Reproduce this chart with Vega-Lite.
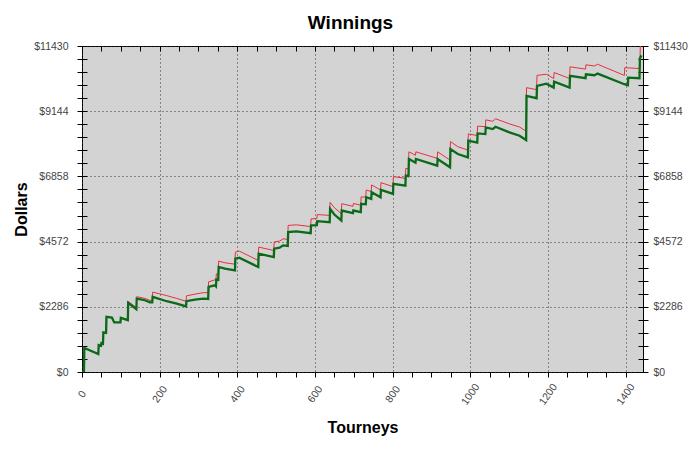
{
  "$schema": "https://vega.github.io/schema/vega-lite/v6.json",
  "width": 561,
  "height": 326,
  "autosize": {"type": "none"},
  "padding": {"left": 82, "top": 46, "right": 57, "bottom": 77},
  "background": "white",
  "title": {"text": "Winnings", "fontSize": 19, "font": "Liberation Sans", "fontWeight": "bold", "anchor": "middle", "frame": "group", "dx": -12, "offset": 8, "color": "black"},
  "config": {
    "view": {"fill": "#d3d3d3", "stroke": "black", "strokeWidth": 1},
    "axis": {"labelFont": "Liberation Sans", "titleFont": "Liberation Sans", "labelFontSize": 10.5, "labelColor": "#444", "tickColor": "black", "titleColor": "black", "titleFontSize": 16, "titleFontWeight": "bold", "labelOverlap": false, "labelFlush": false, "domain": false}
  },
  "datasets": {
    "green": [
      {"t":0,"v":0},{"t":5,"v":0},{"t":6,"v":840},{"t":42,"v":630},{"t":43,"v":944},{"t":49,"v":920},{"t":50,"v":1013},{"t":54,"v":990},{"t":55,"v":1387},{"t":62,"v":1370},{"t":63,"v":1933},{"t":77,"v":1911},{"t":83,"v":1740},{"t":99,"v":1737},{"t":100,"v":1898},{"t":118,"v":1817},{"t":119,"v":2423},{"t":140,"v":2202},{"t":141,"v":2575},{"t":162,"v":2516},{"t":175,"v":2440},{"t":181,"v":2440},{"t":182,"v":2633},{"t":218,"v":2481},{"t":244,"v":2400},{"t":268,"v":2300},{"t":269,"v":2481},{"t":291,"v":2540},{"t":312,"v":2575},{"t":325,"v":2560},{"t":326,"v":2982},{"t":342,"v":3040},{"t":345,"v":3000},{"t":346,"v":3239},{"t":351,"v":3230},{"t":352,"v":3681},{"t":368,"v":3623},{"t":394,"v":3565},{"t":395,"v":3973},{"t":405,"v":4010},{"t":454,"v":3681},{"t":455,"v":4148},{"t":494,"v":4031},{"t":495,"v":4323},{"t":509,"v":4357},{"t":518,"v":4439},{"t":530,"v":4420},{"t":531,"v":4904},{"t":552,"v":4928},{"t":589,"v":4869},{"t":590,"v":5138},{"t":605,"v":5150},{"t":606,"v":5288},{"t":638,"v":5253},{"t":639,"v":5721},{"t":650,"v":5520},{"t":668,"v":5312},{"t":669,"v":5662},{"t":698,"v":5568},{"t":699,"v":5662},{"t":718,"v":5603},{"t":719,"v":5896},{"t":731,"v":5880},{"t":732,"v":6127},{"t":745,"v":6069},{"t":746,"v":6302},{"t":769,"v":6127},{"t":770,"v":6385},{"t":801,"v":6245},{"t":802,"v":6594},{"t":833,"v":6536},{"t":834,"v":6885},{"t":841,"v":6870},{"t":842,"v":7468},{"t":859,"v":7340},{"t":860,"v":7468},{"t":915,"v":7235},{"t":916,"v":7468},{"t":948,"v":7176},{"t":949,"v":7818},{"t":968,"v":7643},{"t":994,"v":7526},{"t":995,"v":8108},{"t":1018,"v":8040},{"t":1019,"v":8364},{"t":1039,"v":8341},{"t":1040,"v":8574},{"t":1058,"v":8516},{"t":1065,"v":8598},{"t":1101,"v":8400},{"t":1127,"v":8283},{"t":1144,"v":8132},{"t":1145,"v":9681},{"t":1171,"v":9600},{"t":1172,"v":10031},{"t":1196,"v":10111},{"t":1215,"v":9971},{"t":1216,"v":10181},{"t":1256,"v":9971},{"t":1257,"v":10380},{"t":1297,"v":10299},{"t":1298,"v":10439},{"t":1320,"v":10404},{"t":1328,"v":10462},{"t":1397,"v":10090},{"t":1406,"v":10055},{"t":1407,"v":10321},{"t":1436,"v":10300},{"t":1437,"v":11000},{"t":1441,"v":11100}
    ],
    "red": [
      {"t":0,"v":0},{"t":5,"v":0},{"t":6,"v":840},{"t":42,"v":630},{"t":43,"v":944},{"t":49,"v":920},{"t":50,"v":1013},{"t":54,"v":990},{"t":55,"v":1387},{"t":62,"v":1370},{"t":63,"v":1933},{"t":77,"v":1911},{"t":83,"v":1740},{"t":99,"v":1737},{"t":100,"v":1898},{"t":118,"v":1817},{"t":119,"v":2470},{"t":140,"v":2260},{"t":141,"v":2640},{"t":162,"v":2580},{"t":175,"v":2510},{"t":181,"v":2510},{"t":182,"v":2800},{"t":218,"v":2680},{"t":244,"v":2580},{"t":268,"v":2480},{"t":269,"v":2670},{"t":291,"v":2730},{"t":312,"v":2780},{"t":325,"v":2780},{"t":326,"v":3160},{"t":342,"v":3230},{"t":345,"v":3200},{"t":346,"v":3440},{"t":351,"v":3440},{"t":352,"v":3890},{"t":368,"v":3830},{"t":394,"v":3780},{"t":395,"v":4200},{"t":405,"v":4240},{"t":454,"v":3910},{"t":455,"v":4380},{"t":494,"v":4260},{"t":495,"v":4560},{"t":509,"v":4590},{"t":518,"v":4670},{"t":530,"v":4650},{"t":531,"v":5140},{"t":552,"v":5160},{"t":589,"v":5100},{"t":590,"v":5370},{"t":605,"v":5380},{"t":606,"v":5520},{"t":638,"v":5490},{"t":639,"v":5950},{"t":650,"v":5760},{"t":668,"v":5550},{"t":669,"v":5900},{"t":698,"v":5810},{"t":699,"v":5910},{"t":718,"v":5850},{"t":719,"v":6140},{"t":731,"v":6130},{"t":732,"v":6380},{"t":745,"v":6330},{"t":746,"v":6560},{"t":769,"v":6380},{"t":770,"v":6640},{"t":801,"v":6500},{"t":802,"v":6850},{"t":833,"v":6790},{"t":834,"v":7140},{"t":841,"v":7120},{"t":842,"v":7720},{"t":859,"v":7600},{"t":860,"v":7720},{"t":915,"v":7490},{"t":916,"v":7720},{"t":948,"v":7430},{"t":949,"v":8080},{"t":968,"v":7900},{"t":994,"v":7780},{"t":995,"v":8350},{"t":1018,"v":8290},{"t":1019,"v":8620},{"t":1039,"v":8600},{"t":1040,"v":8840},{"t":1058,"v":8790},{"t":1065,"v":8880},{"t":1101,"v":8700},{"t":1127,"v":8590},{"t":1144,"v":8440},{"t":1145,"v":9970},{"t":1171,"v":9900},{"t":1172,"v":10400},{"t":1196,"v":10440},{"t":1215,"v":10290},{"t":1216,"v":10500},{"t":1256,"v":10290},{"t":1257,"v":10700},{"t":1297,"v":10620},{"t":1298,"v":10770},{"t":1320,"v":10730},{"t":1328,"v":10790},{"t":1397,"v":10400},{"t":1398,"v":10670},{"t":1437,"v":10640},{"t":1438,"v":11430},{"t":1441,"v":11430}
    ]
  },
  "layer": [
    {
      "data": {"name": "red"},
      "mark": {"type": "line", "color": "#e8303c", "strokeWidth": 1, "clip": true},
      "encoding": {
        "x": {"field": "t", "type": "quantitative", "scale": {"domain": [0, 1445], "nice": false, "zero": false},
          "axis": {"orient": "bottom", "title": "Tourneys", "values": [0,50,100,150,200,250,300,350,400,450,500,550,600,650,700,750,800,850,900,950,1000,1050,1100,1150,1200,1250,1300,1350,1400],
            "labelExpr": "datum.value % 200 == 0 ? '' + datum.value : ''", "labelAngle": -55, "labelAlign": "center", "labelBaseline": "middle", "labelPadding": 17, "tickSize": 5,
            "grid": true, "gridDash": [1, 3], "gridColor": "#333", "gridOpacity": {"condition": {"test": "datum.value % 200 == 0", "value": 1}, "value": 0}, "titlePadding": 13}},
        "y": {"field": "v", "type": "quantitative", "scale": {"domain": [0, 11430], "nice": false, "zero": false},
          "axis": {"orient": "left", "title": "Dollars", "offset": -5, "tickSize": 10, "labelPadding": 9,
            "values": [0,457.2,914.4,1371.6,1828.8,2286,2743.2,3200.4,3657.6,4114.8,4572,5029.2,5486.4,5943.6,6400.8,6858,7315.2,7772.4,8229.6,8686.8,9144,9601.2,10058.4,10515.6,10972.8,11430],
            "labelExpr": "abs(datum.value/2286 - round(datum.value/2286)) < 0.001 ? '$' + round(datum.value) : ''",
            "grid": true, "gridDash": [1, 3], "gridColor": "#333", "gridOpacity": {"condition": {"test": "abs(datum.value/2286 - round(datum.value/2286)) < 0.001", "value": 1}, "value": 0}, "titlePadding": 4}}
      }
    },
    {
      "data": {"name": "green"},
      "mark": {"type": "line", "color": "#0b6a18", "strokeWidth": 2.3, "clip": true},
      "encoding": {
        "x": {"field": "t", "type": "quantitative", "scale": {"domain": [0, 1445], "nice": false, "zero": false},
          "axis": {"orient": "top", "title": null, "labels": false, "grid": false, "offset": -5, "tickSize": 5, "values": [0,50,100,150,200,250,300,350,400,450,500,550,600,650,700,750,800,850,900,950,1000,1050,1100,1150,1200,1250,1300,1350,1400]}},
        "y": {"field": "v", "type": "quantitative", "scale": {"domain": [0, 11430], "nice": false, "zero": false},
          "axis": {"orient": "right", "title": null, "grid": false, "offset": -5, "tickSize": 10, "labelPadding": 5,
            "values": [0,457.2,914.4,1371.6,1828.8,2286,2743.2,3200.4,3657.6,4114.8,4572,5029.2,5486.4,5943.6,6400.8,6858,7315.2,7772.4,8229.6,8686.8,9144,9601.2,10058.4,10515.6,10972.8,11430],
            "labelExpr": "abs(datum.value/2286 - round(datum.value/2286)) < 0.001 ? '$' + round(datum.value) : ''"}}
      }
    }
  ],
  "resolve": {"axis": {"x": "independent", "y": "independent"}}
}
